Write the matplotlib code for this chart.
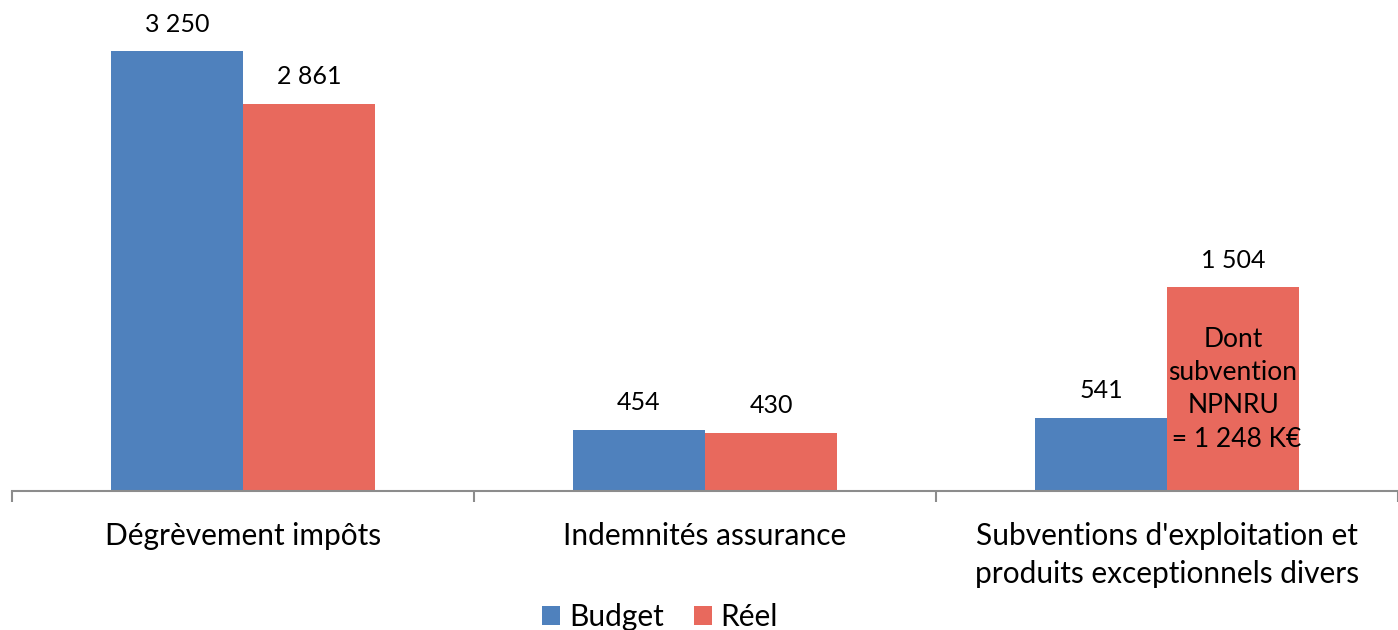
import matplotlib
matplotlib.use("Agg")
import matplotlib.pyplot as plt
import numpy as np

categories = ["Dégrèvement impôts", "Indemnités assurance",
              "Subventions d'exploitation et\nproduits exceptionnels divers"]
budget = [3250, 454, 541]
reel = [2861, 430, 1504]
series_names = ["Budget", "Réel"]
note_text = "Dont\nsubvention\nNPNRU\n = 1 248 K€"

BLUE = "#4F81BD"
RED = "#E8695D"
AXIS_GREY = "#8C8C8C"

plt.rcParams["font.family"] = ["Lato", "DejaVu Sans"]
FS_CAT = 21.5
FS_VAL = 18
FS_NOTE = 19

def fmt(v):
    return f"{v:,}".replace(",", " ")

fig = plt.figure(figsize=(13.98, 6.30), dpi=100)
ax = fig.add_axes([12 / 1398, 1 - 491 / 630, 1 - 12 / 1398, 491 / 630])

x = np.arange(len(categories))
w = 0.286
b1 = ax.bar(x - w / 2, budget, w, color=BLUE, label=series_names[0])
b2 = ax.bar(x + w / 2, reel, w, color=RED, label=series_names[1])

ax.set_xlim(-0.5, len(categories) - 0.5)
ax.set_ylim(0, 3626)

for bars, vals in ((b1, budget), (b2, reel)):
    for r, v in zip(bars, vals):
        ax.annotate(fmt(v), (r.get_x() + r.get_width() / 2, v),
                    xytext=(0, 11), textcoords="offset points",
                    ha="center", va="bottom", fontsize=FS_VAL)

# note inside the last "Réel" bar
last = b2[-1]
ax.text(last.get_x() + last.get_width() / 2, reel[-1] / 2, note_text,
        ha="center", va="center", fontsize=FS_NOTE, linespacing=1.42)

for s in ("left", "right", "top"):
    ax.spines[s].set_visible(False)
ax.spines["bottom"].set_color(AXIS_GREY)
ax.spines["bottom"].set_linewidth(1.5)
ax.set_yticks([])

ax.set_xticks(np.arange(-0.5, len(categories), 1.0))
ax.set_xticklabels([])
ax.tick_params(axis="x", which="major", direction="out", length=8,
               width=1.5, color=AXIS_GREY)
ax.set_xticks(x, minor=True)
ax.set_xticklabels(categories, minor=True, fontsize=FS_CAT)
ax.tick_params(axis="x", which="minor", length=0, pad=22)
for t in ax.get_xticklabels(minor=True):
    t.set_linespacing(1.45)

fig.legend(handles=[b1, b2], labels=series_names, loc="lower center",
           bbox_to_anchor=(660 / 1398, -0.045), ncol=2, frameon=False,
           fontsize=FS_CAT, handlelength=0.6, handleheight=0.6,
           handletextpad=0.3, columnspacing=1.0)

fig.savefig("out.png", dpi=100)
